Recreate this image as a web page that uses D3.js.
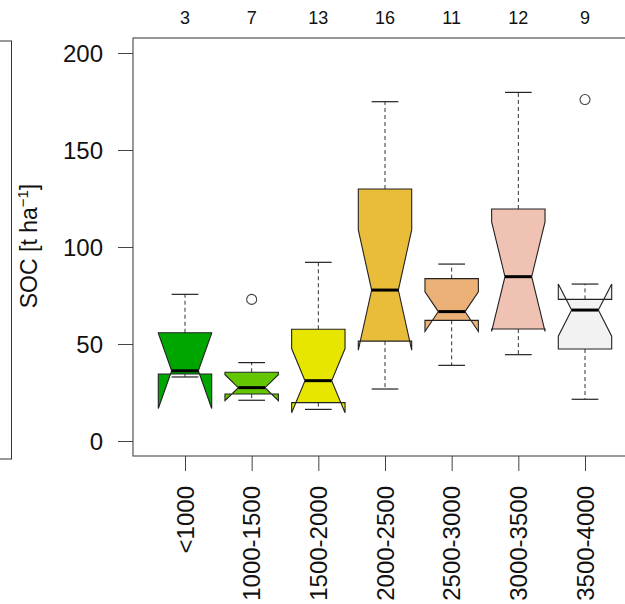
<!DOCTYPE html>
<html>
<head>
<meta charset="utf-8">
<script src="https://cdn.jsdelivr.net/npm/d3@7"></script>
<style>
  body { margin: 0; background: #fff; }
  svg { display: block; font-family: "Liberation Sans", Arial, sans-serif; }
</style>
</head>
<body>
<div id="chart"></div>
<script>
// elevation classes and group sizes
const categories = ["<1000", "1000-1500", "1500-2000", "2000-2500", "2500-3000", "3000-3500", "3500-4000"];
const counts = [3, 7, 13, 16, 11, 12, 9];

// boxplot statistics (SOC, t/ha)
const whiskerLow = [33, 21, 16.3, 26.8, 39, 44.5, 21.5];
const q1 = [34.5, 24.2, 19.8, 51.5, 62.2, 57.7, 47.4];
const median = [36.2, 27.5, 31.1, 77.8, 66.7, 84.7, 67.5];
const q3 = [55.8, 35.4, 57.6, 129.9, 83.7, 119.6, 73.0];
const whiskerHigh = [75.6, 40.4, 92.1, 174.9, 91.2, 179.7, 80.9];
const outliers = [[], [73], [], [], [], [], [176]];

const yTicks = [0, 50, 100, 150, 200];
const fills = ["#00A600", "#63C600", "#E6E600", "#E9BD3A", "#ECB176", "#EFC2B3", "#F2F2F2"];

const width = 625, height = 604;
const frame = { left: 133, top: 38, bottom: 456, right: 640 };

const svg = d3.select("#chart").append("svg")
  .attr("width", width)
  .attr("height", height);

// edge of the neighbouring panel, cut off at the left
svg.append("rect")
  .attr("x", -20).attr("y", 41)
  .attr("width", 31.5).attr("height", 418)
  .attr("fill", "none").attr("stroke", "#333").attr("stroke-width", 1);

const x = d3.scalePoint()
  .domain(categories)
  .range([185, 585]);

const y = d3.scaleLinear()
  .domain([0, 200])
  .range([441, 53]);

const wid = 26.7;        // half box width
const nwid = wid * 0.5;  // notch half width
const swid = wid * 0.5;  // staple half width

// plot frame
svg.append("rect")
  .attr("x", frame.left).attr("y", frame.top)
  .attr("width", frame.right - frame.left).attr("height", frame.bottom - frame.top)
  .attr("fill", "none").attr("stroke", "#555").attr("stroke-width", 1.2);

// y axis
const yAxis = svg.append("g")
  .attr("transform", `translate(${frame.left},0)`)
  .call(d3.axisLeft(y).tickValues(yTicks).tickSize(15).tickPadding(15).tickFormat(d3.format("d")));
yAxis.select(".domain").remove();
yAxis.selectAll(".tick line").attr("stroke", "#444");
yAxis.selectAll(".tick text")
  .attr("font-size", 24)
  .attr("fill", "#111")
  .attr("font-family", "Liberation Sans, Arial, sans-serif")
  .attr("dy", "0.36em");

// x axis ticks and rotated labels
const xAxis = svg.append("g")
  .attr("transform", `translate(0,${frame.bottom})`)
  .call(d3.axisBottom(x).tickSize(15).tickFormat(""));
xAxis.select(".domain").remove();
xAxis.selectAll(".tick line").attr("stroke", "#444");

svg.append("g").selectAll("text")
  .data(categories)
  .join("text")
  .attr("transform", d => `translate(${x(d) + 8.5},486) rotate(-90)`)
  .attr("text-anchor", "end")
  .attr("font-size", 24)
  .attr("fill", "#111")
  .text(d => d);

// group sizes on top
svg.append("g").selectAll("text")
  .data(categories)
  .join("text")
  .attr("x", d => x(d))
  .attr("y", 24)
  .attr("text-anchor", "middle")
  .attr("font-size", 18)
  .attr("fill", "#111")
  .text((d, i) => counts[i]);

// y label
const yl = svg.append("text")
  .attr("transform", "translate(37,246) rotate(-90)")
  .attr("text-anchor", "middle")
  .attr("font-size", 23)
  .attr("fill", "#111");
yl.append("tspan").text("SOC [t ha");
yl.append("tspan").attr("dy", -9).attr("font-size", 15).text("\u22121");
yl.append("tspan").attr("dy", 9).text("]");

// boxes
const boxes = svg.append("g").selectAll("g")
  .data(categories)
  .join("g");

boxes.each(function(d, i) {
  const g = d3.select(this);
  const cx = x(d);
  const iqr = q3[i] - q1[i];
  const lo = median[i] - 1.58 * iqr / Math.sqrt(counts[i]);
  const hi = median[i] + 1.58 * iqr / Math.sqrt(counts[i]);

  // whiskers
  g.append("line")
    .attr("x1", cx).attr("x2", cx)
    .attr("y1", y(q3[i])).attr("y2", y(whiskerHigh[i]))
    .attr("stroke", "#333").attr("stroke-dasharray", "4,3");
  g.append("line")
    .attr("x1", cx).attr("x2", cx)
    .attr("y1", y(q1[i])).attr("y2", y(whiskerLow[i]))
    .attr("stroke", "#333").attr("stroke-dasharray", "4,3");

  // staples
  [whiskerLow[i], whiskerHigh[i]].forEach(v => {
    g.append("line")
      .attr("x1", cx - swid).attr("x2", cx + swid)
      .attr("y1", y(v)).attr("y2", y(v))
      .attr("stroke", "#222").attr("stroke-width", 1.2);
  });

  // notched box, same vertex order as R's bxp
  const pts = [
    [cx - wid, q1[i]], [cx + wid, q1[i]], [cx + wid, lo], [cx + nwid, median[i]],
    [cx + wid, hi], [cx + wid, q3[i]], [cx - wid, q3[i]], [cx - wid, hi],
    [cx - nwid, median[i]], [cx - wid, lo]
  ];
  g.append("path")
    .attr("d", d3.line().x(p => p[0]).y(p => y(p[1]))(pts) + "Z")
    .attr("fill", fills[i])
    .attr("stroke", "#222")
    .attr("stroke-width", 1.1)
    .attr("stroke-linejoin", "miter");

  // median
  g.append("line")
    .attr("x1", cx - nwid).attr("x2", cx + nwid)
    .attr("y1", y(median[i])).attr("y2", y(median[i]))
    .attr("stroke", "#000").attr("stroke-width", 3);

  // outliers
  g.selectAll("circle")
    .data(outliers[i])
    .join("circle")
    .attr("cx", cx).attr("cy", v => y(v))
    .attr("r", 5)
    .attr("fill", "none")
    .attr("stroke", "#444")
    .attr("stroke-width", 1.1);
});
</script>
</body>
</html>
